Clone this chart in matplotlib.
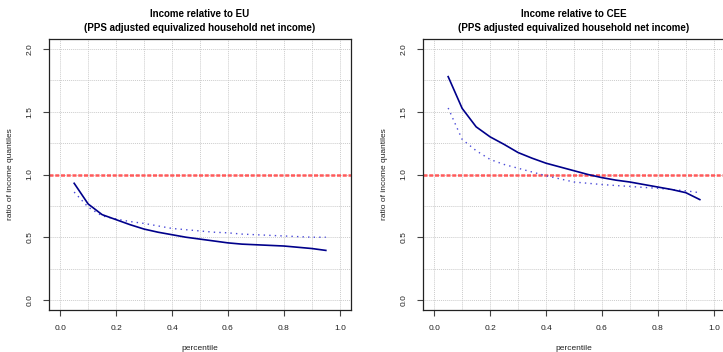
import numpy as np
import matplotlib.pyplot as plt

plt.rcParams['font.family'] = ['Liberation Sans', 'DejaVu Sans']

percentile = [0.05, 0.10, 0.15, 0.20, 0.25, 0.30, 0.35, 0.40, 0.45, 0.50,
              0.55, 0.60, 0.65, 0.70, 0.75, 0.80, 0.85, 0.90, 0.95]

eu_solid = [0.93, 0.765, 0.68, 0.64, 0.60, 0.565, 0.54, 0.52, 0.50, 0.485,
            0.47, 0.455, 0.445, 0.44, 0.435, 0.43, 0.42, 0.41, 0.395]
eu_dotted = [0.86, 0.74, 0.67, 0.645, 0.625, 0.61, 0.59, 0.57, 0.56, 0.55,
             0.54, 0.535, 0.525, 0.52, 0.515, 0.51, 0.505, 0.50, 0.50]

cee_solid = [1.78, 1.527, 1.38, 1.30, 1.24, 1.175, 1.13, 1.09, 1.06, 1.03,
             1.00, 0.975, 0.955, 0.94, 0.92, 0.90, 0.88, 0.855, 0.80]
cee_dotted = [1.53, 1.28, 1.19, 1.12, 1.08, 1.05, 1.02, 0.99, 0.965, 0.94,
              0.93, 0.92, 0.912, 0.905, 0.897, 0.89, 0.88, 0.87, 0.855]

titles = ['Income relative to EU\n(PPS adjusted equivalized household net income)',
          'Income relative to CEE\n(PPS adjusted equivalized household net income)']


def draw_panel(ax, solid, dotted, title):
    for gx in np.arange(0, 1.01, 0.1):
        ax.axvline(gx, color='#cccccc', lw=0.7, ls=(0, (1, 1)), zorder=0)
    for gy in np.arange(0, 2.01, 0.25):
        ax.axhline(gy, color='#cccccc', lw=0.7, ls=(0, (1, 1)), zorder=0)
    ax.axhline(1.0, color='#ff5a5a', lw=1.8, ls=(0, (1.6, 0.7)), zorder=1)
    ax.plot(percentile, dotted, color='#4a4ad8', lw=1.0, ls=(0, (1, 3)), zorder=2)
    ax.plot(percentile, solid, color='#00008B', lw=1.2, zorder=3)
    ax.set_xlim(-0.04, 1.04)
    ax.set_ylim(-0.08, 2.08)
    ax.set_xticks([0.0, 0.2, 0.4, 0.6, 0.8, 1.0])
    ax.set_xticklabels(['0.0', '0.2', '0.4', '0.6', '0.8', '1.0'])
    ax.set_yticks([0.0, 0.5, 1.0, 1.5, 2.0])
    ax.set_yticklabels(['0.0', '0.5', '1.0', '1.5', '2.0'], rotation=90, va='center')
    ax.tick_params(labelsize=6, length=4, width=0.8, pad=7, color='#444444',
                   labelcolor='#222222')
    ax.set_xlabel('percentile', fontsize=6, labelpad=9, color='#222222')
    ax.set_ylabel('ratio of income quantiles', fontsize=6, labelpad=9, color='#222222')
    ax.set_title(title, fontsize=7, fontweight='bold', pad=6, linespacing=1.4)
    for s in ax.spines.values():
        s.set_linewidth(0.9)
        s.set_color('#222222')


fig = plt.figure(figsize=(7.23, 3.52), dpi=100)
ax1 = fig.add_axes([49 / 723, 42 / 352, 302 / 723, 271 / 352])
ax2 = fig.add_axes([423 / 723, 42 / 352, 302 / 723, 271 / 352])
draw_panel(ax1, eu_solid, eu_dotted, titles[0])
draw_panel(ax2, cee_solid, cee_dotted, titles[1])

fig.savefig('out.png', dpi=100)
